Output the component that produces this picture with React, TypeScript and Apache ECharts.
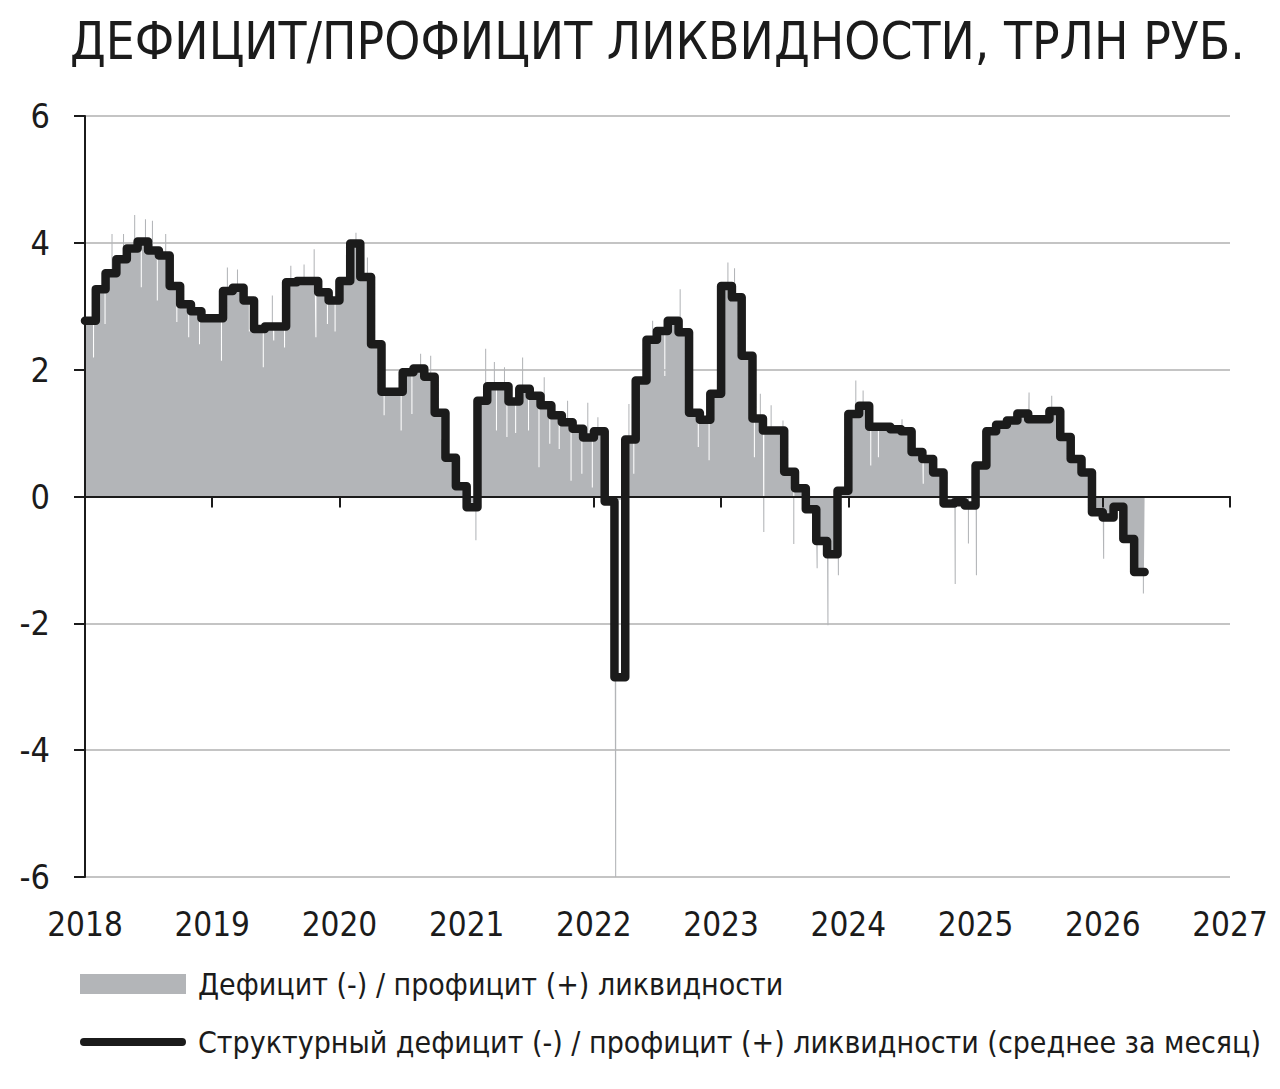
import { useEffect, useRef } from "react";
import * as echarts from "echarts";

const FONT = "'Liberation Sans Narrow', 'DejaVu Sans Condensed', 'Liberation Sans', sans-serif";
const GRAY = "#b3b5b8";
const INK = "#1b1b1b";

const TITLE = "ДЕФИЦИТ/ПРОФИЦИТ ЛИКВИДНОСТИ, ТРЛН РУБ.";
const NAME_DAILY = "Дефицит (-) / профицит (+) ликвидности";
const NAME_AVG = "Структурный дефицит (-) / профицит (+) ликвидности (среднее за месяц)";

const FIRST_YEAR = 2018;
const LAST_YEAR = 2027;
const END_DATE = "2026-05-01";

// monthly average (structural), Jan 2018 .. Apr 2026, трлн руб.
const structural = [
  // 2018
  2.77, 3.27, 3.52, 3.74, 3.91, 4.02, 3.88, 3.8, 3.32, 3.03, 2.92, 2.81,
  // 2019
  2.81, 3.24, 3.29, 3.09, 2.64, 2.68, 2.68, 3.38, 3.4, 3.4, 3.22, 3.09,
  // 2020
  3.4, 3.99, 3.46, 2.4, 1.65, 1.65, 1.96, 2.02, 1.89, 1.32, 0.61, 0.16,
  // 2021
  -0.17, 1.51, 1.74, 1.74, 1.5, 1.7, 1.59, 1.44, 1.28, 1.17, 1.07, 0.93,
  // 2022
  1.03, -0.08, -2.85, 0.9, 1.83, 2.47, 2.61, 2.77, 2.59, 1.32, 1.21, 1.62,
  // 2023
  3.32, 3.14, 2.22, 1.23, 1.04, 1.04, 0.39, 0.13, -0.2, -0.7, -0.91, 0.09,
  // 2024
  1.3, 1.43, 1.1, 1.1, 1.06, 1.03, 0.7, 0.59, 0.38, -0.11, -0.09, -0.14,
  // 2025
  0.49, 1.03, 1.13, 1.2, 1.31, 1.22, 1.22, 1.35, 0.94, 0.59, 0.38, -0.25,
  // 2026
  -0.33, -0.16, -0.67, -1.19,
];

// months where the daily level sits apart from the monthly average
const levelOverrides: [string, number][] = [
  ["2021-01", -0.1],
  ["2022-03", -0.05],
  ["2024-10", -0.03],
  ["2024-11", -0.03],
  ["2024-12", -0.03],
];

// single days that break away from the level (daily series)
const dailySpikes: [string, number][] = [
  ["2018-01-24", 2.19], ["2018-02-26", 2.72], ["2018-03-18", 4.14], ["2018-04-20", 4.14],
  ["2018-05-22", 4.44], ["2018-06-10", 3.3], ["2018-06-22", 4.37], ["2018-07-12", 4.35],
  ["2018-07-26", 3.09], ["2018-08-19", 4.14], ["2018-09-20", 2.75], ["2018-10-24", 2.51],
  ["2018-11-24", 2.4],
  ["2019-01-26", 2.14], ["2019-02-12", 3.61], ["2019-03-13", 3.58], ["2019-04-16", 2.6],
  ["2019-05-26", 2.04], ["2019-06-21", 3.17], ["2019-06-25", 2.46], ["2019-07-26", 2.35],
  ["2019-08-13", 3.64], ["2019-09-20", 3.66], ["2019-10-19", 3.9], ["2019-10-24", 2.51],
  ["2019-11-26", 2.72], ["2019-12-18", 2.6],
  ["2020-02-16", 4.16], ["2020-03-20", 3.77], ["2020-05-07", 1.28], ["2020-06-25", 1.04],
  ["2020-07-26", 1.3], ["2020-08-20", 2.25], ["2020-09-18", 2.22], ["2020-10-20", 0.9],
  ["2021-01-26", -0.69], ["2021-02-23", 2.33], ["2021-03-20", 2.12], ["2021-03-26", 1.04],
  ["2021-04-18", 2.04], ["2021-04-25", 0.94], ["2021-05-20", 1.0], ["2021-06-09", 2.19],
  ["2021-06-26", 1.04], ["2021-07-26", 0.46], ["2021-08-10", 1.88], ["2021-08-26", 0.83],
  ["2021-09-22", 0.75], ["2021-10-16", 1.51], ["2021-10-26", 0.25], ["2021-11-26", 0.36],
  ["2021-12-13", 1.48], ["2021-12-26", 0.14],
  ["2022-01-11", 1.25], ["2022-03-03", -6.0], ["2022-04-10", 1.46], ["2022-04-24", 0.36],
  ["2022-06-17", 2.77], ["2022-07-22", 1.9], ["2022-09-04", 3.27], ["2022-10-26", 0.78],
  ["2022-11-26", 0.57], ["2022-12-20", 1.83],
  ["2023-01-19", 3.69], ["2023-02-07", 3.6], ["2023-04-05", 0.62], ["2023-04-22", 1.62],
  ["2023-05-02", -0.56], ["2023-05-23", 1.44], ["2023-06-26", 1.2], ["2023-07-27", -0.75],
  ["2023-10-02", -1.13], ["2023-11-02", -2.03], ["2023-12-02", -1.24],
  ["2024-01-21", 1.83], ["2024-02-11", 1.67], ["2024-03-04", 0.49], ["2024-03-26", 0.62],
  ["2024-06-02", 1.22], ["2024-08-02", 0.2], ["2024-11-02", -1.38], ["2024-12-10", -0.74],
  ["2025-01-02", -1.24], ["2025-06-02", 1.64], ["2025-08-06", 1.59],
  ["2026-01-02", -0.98], ["2026-04-26", -1.53],
];

const SPIKE_DAYS = 3;

function toYear(d: string) {
  const [y, m, day] = d.split("-").map(Number);
  const t0 = Date.UTC(y, 0, 1);
  const t1 = Date.UTC(y + 1, 0, 1);
  return y + (Date.UTC(y, (m || 1) - 1, day || 1) - t0) / (t1 - t0);
}

function monthKey(i: number) {
  const y = FIRST_YEAR + Math.floor(i / 12);
  const m = (i % 12) + 1;
  return `${y}-${String(m).padStart(2, "0")}`;
}

function buildAverage() {
  const data: [number, number][] = structural.map((v, i) => [toYear(monthKey(i) + "-01"), v]);
  data.push([toYear(END_DATE), structural[structural.length - 1]]);
  return data;
}

function buildDaily() {
  const overrides = new Map(levelOverrides);
  const data: [number, number][] = [];
  let base = 0;
  structural.forEach((v, i) => {
    const key = monthKey(i);
    base = overrides.get(key) ?? v;
    data.push([toYear(key + "-01"), base]);
    dailySpikes
      .filter(([d]) => d.startsWith(key))
      .sort((a, b) => a[0].localeCompare(b[0]))
      .forEach(([d, s]) => {
        const x = toYear(d);
        data.push([x, s]);
        data.push([x + SPIKE_DAYS / 365, base]);
      });
  });
  data.push([toYear(END_DATE), base]);
  return data;
}

function LiquidityChart() {
  const ref = useRef<HTMLDivElement>(null);
  useEffect(() => {
    if (!ref.current) return;
    const chart = echarts.init(ref.current, undefined, { renderer: "svg" });
    chart.setOption({
      animation: false,
      backgroundColor: "#ffffff",
      title: {
        text: TITLE,
        left: 70,
        top: 16,
        padding: 0,
        textStyle: { fontFamily: FONT, fontSize: 51, fontWeight: "normal", color: INK },
      },
      grid: { left: 85, right: 50, top: 116, bottom: 212 },
      legend: {
        orient: "vertical",
        left: 80,
        top: 965,
        padding: 0,
        itemWidth: 106,
        itemHeight: 20,
        itemGap: 20,
        selectedMode: false,
        textStyle: { fontFamily: FONT, fontSize: 30, color: INK, lineHeight: 38, padding: [0, 0, 0, 7] },
        data: [
          { name: NAME_DAILY, icon: "rect", itemStyle: { color: GRAY } },
          {
            name: NAME_AVG,
            icon: "path://M4,0 L104,0 A4,4 0 0 1 104,8 L4,8 A4,4 0 0 1 4,0 Z",
            itemStyle: { color: INK },
          },
        ],
      },
      xAxis: [
        {
          type: "value",
          min: FIRST_YEAR,
          max: LAST_YEAR,
          interval: 1,
          position: "bottom",
          z: 5,
          axisLine: { onZero: true, onZeroAxisIndex: 0, lineStyle: { color: INK, width: 2 } },
          axisTick: { length: 11, lineStyle: { color: INK, width: 2 } },
          axisLabel: { show: false },
          splitLine: { show: false },
        },
        {
          type: "value",
          min: FIRST_YEAR,
          max: LAST_YEAR,
          interval: 1,
          position: "bottom",
          axisLine: { show: false, onZero: false },
          axisTick: { show: false },
          splitLine: { show: false },
          axisLabel: {
            fontFamily: FONT,
            fontSize: 33,
            color: INK,
            margin: 31,
            formatter: (v: number) => String(v),
          },
        },
      ],
      yAxis: [
        {
          type: "value",
          min: -6,
          max: 6,
          interval: 2,
          position: "left",
          axisLine: { show: false, onZero: false },
          axisTick: { show: false },
          axisLabel: { show: false },
          splitLine: { lineStyle: { color: "#c4c4c4", width: 2 } },
        },
        {
          type: "value",
          min: -6,
          max: 6,
          interval: 2,
          position: "left",
          z: 5,
          axisLine: { show: true, onZero: false, lineStyle: { color: INK, width: 2 } },
          axisTick: { show: true, length: 11, lineStyle: { color: INK, width: 2 } },
          splitLine: { show: false },
          axisLabel: { fontFamily: FONT, fontSize: 34, color: INK, margin: 35 },
        },
      ],
      series: [
        {
          name: NAME_DAILY,
          type: "line",
          step: "end",
          data: buildDaily(),
          showSymbol: false,
          color: GRAY,
          lineStyle: { width: 0, color: GRAY },
          areaStyle: { color: GRAY, opacity: 1 },
          z: 2,
        },
        {
          name: NAME_AVG,
          type: "line",
          step: "end",
          data: buildAverage(),
          showSymbol: false,
          color: INK,
          lineStyle: { width: 8.5, color: INK, join: "round", cap: "round" },
          z: 6,
        },
      ],
    });
    return () => chart.dispose();
  }, []);
  return (
    <div
      ref={ref}
      style={{ position: "absolute", left: 0, top: 0, width: 1280, height: 1089 }}
    />
  );
}

export default function App() {
  return <LiquidityChart />;
}
